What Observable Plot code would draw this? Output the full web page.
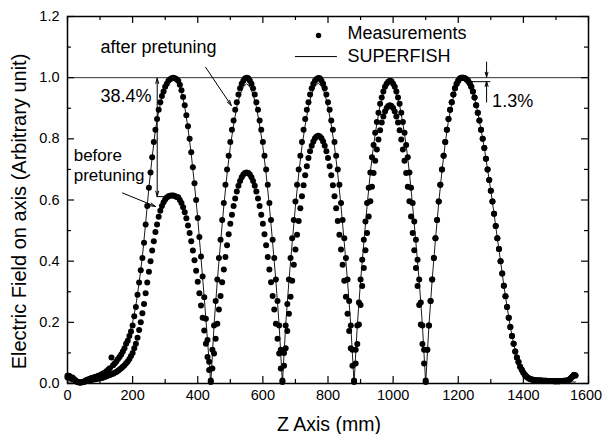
<!DOCTYPE html>
<html><head><meta charset="utf-8">
<script src="https://cdn.jsdelivr.net/npm/d3@7"></script>
<script src="https://cdn.jsdelivr.net/npm/@observablehq/plot@0.6"></script>
<style>body{margin:0;background:#fff}</style>
</head><body><div id="chart"></div>
<script>
// Measured field on axis, sampled every 5 mm (z = index * 5)
const zStep = 5;
const afterPretuning = [
0.025,0.025,0.02,0.02,0.015,0.01,0.006,0.004,0.003,0.004,
0.006,0.01,0.012,0.014,0.016,0.018,0.02,0.021,0.023,0.025,
0.027,0.03,0.033,0.036,0.04,0.045,0.05,0.085,
0.06,0.065,0.072,0.08,0.087,0.095,0.105,0.115,0.13,0.14,0.155,0.17,
0.19,0.22,0.25,0.29,0.33,0.37,0.41,0.46,0.52,0.58,
0.64,0.69,0.74,0.79,0.83,0.865,0.895,0.92,0.94,0.955,
0.97,0.98,0.99,0.995,0.998,1.0,0.998,
0.995,0.99,0.977,0.959,0.937,0.91,0.877,0.841,0.80,0.756,
0.707,0.655,0.60,0.541,0.479,0.415,0.35,0.282,0.212,0.142,
0.071,0.01,
0.11,0.19,0.27,0.34,0.41,0.47,0.535,0.59,0.65,0.70,
0.745,0.79,0.83,0.86,0.895,0.92,0.945,0.965,0.98,0.99,
0.997,1.0,0.998,0.99,0.98,0.965,0.945,0.92,0.895,0.86,
0.83,0.79,0.745,0.70,0.65,0.59,0.535,0.47,0.41,0.34,
0.27,0.19,0.11,0.01,
0.10,0.19,0.26,0.34,0.41,0.475,0.535,0.595,0.65,0.70,
0.745,0.79,0.83,0.865,0.895,0.92,0.945,0.965,0.98,0.99,
0.996,0.999,0.998,0.99,0.98,0.965,0.945,0.92,0.895,0.86,
0.83,0.79,0.745,0.70,0.65,0.59,0.535,0.475,0.41,0.34,
0.27,0.19,0.11,0.01,
0.11,0.19,0.265,0.34,0.405,0.47,0.53,0.59,0.64,0.69,
0.74,0.78,0.82,0.855,0.885,0.915,0.935,0.955,0.97,0.98,
0.987,0.99,0.988,0.98,0.97,0.955,0.935,0.915,0.885,0.855,
0.82,0.78,0.74,0.69,0.64,0.59,0.53,0.47,0.405,0.34,
0.265,0.19,0.11,0.01,
0.11,0.19,0.27,0.34,0.41,0.475,0.535,0.595,0.65,0.70,0.745,0.79,0.83,0.865,0.895,0.92,0.945,0.965,0.98,0.99,0.997,1.0,
1.0,0.998,
0.995,0.99,0.982,0.97,0.955,0.935,0.91,0.885,0.86,0.83,
0.80,0.77,0.735,0.70,0.665,0.63,0.595,0.555,0.515,0.475,
0.44,0.40,0.36,0.32,0.285,0.25,0.215,0.185,0.155,0.13,
0.105,0.085,0.07,0.055,0.045,0.035,0.028,0.022,0.018,0.015,
0.013,0.012,
0.011,0.011,0.01,0.01,0.01,0.009,0.009,0.009,0.008,0.008,0.008,0.008,0.007,0.007,0.007,0.007,0.008,0.008,0.009,0.009,0.01,
0.012,0.016,0.022,0.028,0.026
];
const beforePretuning = [
0.02,0.02,0.018,0.015,0.012,0.008,0.005,0.003,0.003,0.004,
0.005,0.007,0.009,0.01,0.011,0.012,0.013,0.014,0.015,0.016,
0.017,0.018,0.02,0.022,0.024,0.026,0.028,0.03,
0.032,0.035,0.038,0.042,0.046,0.05,0.055,0.06,0.066,0.072,0.08,0.09,
0.10,0.115,0.13,0.15,0.175,0.20,0.23,0.26,0.295,0.33,
0.365,0.40,0.435,0.465,0.495,0.52,0.545,0.565,0.58,0.593,
0.602,0.608,0.612,0.614,0.615,0.615,0.613,
0.61,0.609,0.60,0.59,0.576,0.56,0.54,0.517,0.492,0.465,
0.435,0.403,0.369,0.333,0.295,0.255,0.215,0.173,0.13,0.087,
0.044,0.005,
0.049,0.098,0.146,0.195,0.242,0.286,0.331,0.373,0.414,0.452,
0.488,0.522,0.552,0.58,0.605,0.628,0.647,0.662,0.674,0.683,
0.688,0.69,0.688,0.683,0.674,0.662,0.647,0.628,0.605,0.58,
0.552,0.522,0.488,0.452,0.414,0.373,0.331,0.286,0.242,0.195,
0.146,0.098,0.049,0.005,
0.058,0.115,0.172,0.228,0.284,0.336,0.388,0.438,0.486,0.531,
0.573,0.612,0.648,0.681,0.71,0.737,0.759,0.777,0.791,0.802,
0.808,0.81,0.808,0.802,0.791,0.777,0.759,0.737,0.71,0.681,
0.648,0.612,0.573,0.531,0.486,0.438,0.388,0.336,0.284,0.228,
0.172,0.115,0.058,0.005,
0.065,0.129,0.193,0.257,0.319,0.378,0.436,0.492,0.546,0.596,
0.643,0.688,0.728,0.765,0.798,0.828,0.853,0.873,0.889,0.901,
0.907,0.91,0.907,0.901,0.889,0.873,0.853,0.828,0.798,0.765,
0.728,0.688,0.643,0.596,0.546,0.492,0.436,0.378,0.319,0.257,
0.193,0.129,0.065,0.005,
0.11,0.19,0.27,0.34,0.41,0.475,0.535,0.595,0.65,0.70,0.745,0.79,0.83,0.865,0.895,0.92,0.945,0.965,0.98,0.99,0.997,1.0,
1.0,0.998,
0.995,0.99,0.982,0.97,0.955,0.935,0.91,0.885,0.86,0.83,
0.80,0.77,0.735,0.70,0.665,0.63,0.595,0.555,0.515,0.475,
0.44,0.40,0.36,0.32,0.285,0.25,0.215,0.185,0.155,0.13,
0.105,0.085,0.07,0.055,0.045,0.035,0.028,0.022,0.018,0.015,
0.013,0.012,
0.011,0.011,0.01,0.01,0.01,0.009,0.009,0.009,0.008,0.008,0.008,0.008,0.007,0.007,0.007,0.007,0.008,0.008,0.009,0.009,0.01,
0.012,0.016,0.022,0.028,0.026
];
// SUPERFISH calculation, every 10 mm
const sfStep = 10;
const superfish = [
0.005,0.005,0.005,0.005,0.006,0.007,0.008,0.01,0.012,0.015,0.019,0.024,0.031,0.04,
0.052,0.067,0.086,0.108,0.135,0.165,0.20,0.255,0.33,0.415,
0.525,0.64,0.74,0.83,0.89,0.935,0.965,0.985,0.993,0.993,
0.985,0.955,0.905,0.835,0.75,0.65,0.54,0.41,0.28,0.14,0.0,
0.19,0.335,0.46,0.58,0.685,0.775,0.845,0.905,0.945,0.97,0.98,0.97,0.945,0.905,0.845,0.775,0.685,0.58,0.46,0.335,0.19,0.0,
0.19,0.335,0.46,0.58,0.685,0.775,0.845,0.905,0.948,0.972,0.982,0.972,0.948,0.905,0.845,0.775,0.685,0.58,0.46,0.335,0.19,0.0,
0.19,0.335,0.46,0.58,0.69,0.78,0.85,0.91,0.95,0.975,0.985,0.975,0.95,0.91,0.85,0.78,0.69,0.58,0.46,0.335,0.19,0.0,
0.19,0.34,0.47,0.59,0.695,0.785,0.86,0.915,0.955,0.98,
0.992,0.995,0.988,0.968,0.935,0.885,0.83,0.77,0.70,0.63,
0.555,0.475,0.40,0.32,0.25,0.185,0.13,0.085,0.055,0.035,
0.022,0.015,0.011,0.009,0.008,0.007,0.006,0.006,0.005,0.005,
0.005,0.005,0.005,0.005,0.005,0.005
];
const xTicks = [0,200,400,600,800,1000,1200,1400,1600];
const xMinor = [100,300,500,700,900,1100,1300,1500];
const yTicks = [0,0.2,0.4,0.6,0.8,1.0,1.2];
const yMinor = [0.1,0.3,0.5,0.7,0.9,1.1];
const texts = [
  {label: "after pretuning", z: 101, v: 1.082, size: 18},
  {label: "38.4%", z: 101, v: 0.920, size: 18},
  {label: "before", z: 19, v: 0.729, size: 17},
  {label: "pretuning", z: 19, v: 0.661, size: 17},
  {label: "1.3%", z: 1304, v: 0.904, size: 18},
  {label: "Measurements", z: 860, v: 1.125, size: 18},
  {label: "SUPERFISH", z: 860, v: 1.050, size: 18}
];
const arrows = [
  {z1: 424, v1: 1.034, z2: 503, v2: 0.909},
  {z1: 169, v1: 0.623, z2: 270, v2: 0.579},
  {z1: 275.5, v1: 0.80, z2: 275.5, v2: 0.998},
  {z1: 275.5, v1: 0.80, z2: 275.5, v2: 0.612},
  {z1: 1287, v1: 1.051, z2: 1287, v2: 1.002},
  {z1: 1287, v1: 0.920, z2: 1287, v2: 0.988}
];
const shortLines = [
  {z1: 275.5, z2: 316, v: 0.611},
  {z1: 1240, z2: 1300, v: 0.987},
  {z1: 700, z2: 829, v: 1.069}
];
const legendDot = [{z: 771, v: 1.138}];

const meas = [
  ...afterPretuning.map((v, i) => ({z: i * zStep, v})),
  ...beforePretuning.map((v, i) => ({z: i * zStep, v}))
];
const sf = superfish.map((v, i) => ({z: i * sfStep, v}));

const tx = 21.5, tyM = 0.0229, tm = 12.3, tym = 0.0131;
const font = "'Liberation Sans', Arial, Helvetica, sans-serif";

const chart = Plot.plot({
  width: 603, height: 434,
  marginLeft: 67, marginRight: 15, marginTop: 16, marginBottom: 51,
  style: {fontFamily: font, fontSize: "14.5px", background: "#fff", color: "#000", overflow: "visible"},
  x: {domain: [0, 1600], axis: null},
  y: {domain: [0, 1.2], ticks: yTicks, tickSize: 0, tickPadding: 8, tickFormat: d3.format(".1f"), label: null},
  marks: [
    Plot.ruleY([1], {stroke: "#333", strokeWidth: 1}),
    Plot.line(sf, {x: "z", y: "v", stroke: "#000", strokeWidth: 0.9}),
    Plot.dot(meas, {x: "z", y: "v", r: 3, fill: "#000", stroke: "none"}),
    // inward ticks
    Plot.ruleX(xTicks, {x: d => d, y1: 0, y2: tyM, stroke: "#000", strokeWidth: 1.2}),
    Plot.ruleX(xMinor, {x: d => d, y1: 0, y2: tym, stroke: "#000", strokeWidth: 1.2}),
    Plot.ruleX(xTicks, {x: d => d, y1: 1.2, y2: 1.2 - tyM, stroke: "#000", strokeWidth: 1.2}),
    Plot.ruleX(xMinor, {x: d => d, y1: 1.2, y2: 1.2 - tym, stroke: "#000", strokeWidth: 1.2}),
    Plot.ruleY(yTicks, {y: d => d, x1: 0, x2: tx, stroke: "#000", strokeWidth: 1.2}),
    Plot.ruleY(yMinor, {y: d => d, x1: 0, x2: tm, stroke: "#000", strokeWidth: 1.2}),
    Plot.ruleY(yTicks, {y: d => d, x1: 1600, x2: 1600 - tx, stroke: "#000", strokeWidth: 1.2}),
    Plot.ruleY(yMinor, {y: d => d, x1: 1600, x2: 1600 - tm, stroke: "#000", strokeWidth: 1.2}),
    Plot.frame({stroke: "#000", strokeWidth: 1.5}),
    // x tick labels
    Plot.text(xTicks.filter(d => d < 1600), {x: d => d, y: 0, text: d => String(d), lineAnchor: "top", dy: 6, fill: "#000"}),
    Plot.text(xTicks.filter(d => d === 1600), {x: d => d, y: 0, text: d => String(d), lineAnchor: "top", dy: 6, dx: -2.5, fill: "#000"}),
    // annotations
    Plot.arrow(arrows, {x1: "z1", y1: "v1", x2: "z2", y2: "v2", stroke: "#000", strokeWidth: 1, headLength: 8, headAngle: 32}),
    Plot.ruleY(shortLines, {y: "v", x1: "z1", x2: "z2", stroke: "#000", strokeWidth: 1}),
    Plot.dot(legendDot, {x: "z", y: "v", r: 2.7, fill: "#000", stroke: "none"}),
    Plot.text(texts.filter(d => d.size === 18), {x: "z", y: "v", text: "label", textAnchor: "start", lineAnchor: "bottom", fontSize: 18, fill: "#000"}),
    Plot.text(texts.filter(d => d.size === 17), {x: "z", y: "v", text: "label", textAnchor: "start", lineAnchor: "bottom", fontSize: 17, fill: "#000"}),
    Plot.text(["Z Axis (mm)"], {frameAnchor: "bottom", text: d => d, textAnchor: "middle", lineAnchor: "bottom", dy: 47, dx: 1, fontSize: 19.5, fill: "#000"}),
    Plot.text(["Electric Field on axis (Arbitrary unit)"], {frameAnchor: "left", text: d => d, textAnchor: "middle", lineAnchor: "middle", rotate: -90, dx: -48, dy: 11.5, fontSize: 20, fill: "#000"})
  ]
});
document.getElementById("chart").appendChild(chart);
</script>
</body></html>
